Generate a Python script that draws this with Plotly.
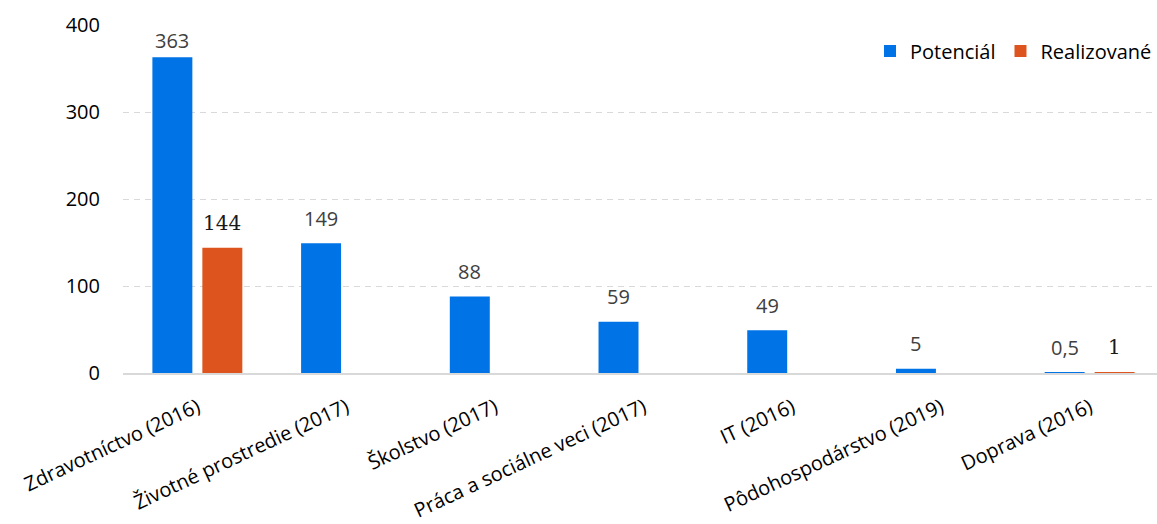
import plotly.graph_objects as go

categories = ["Zdravotníctvo (2016)", "Životné prostredie (2017)", "Školstvo (2017)",
              "Práca a sociálne veci (2017)", "IT (2016)", "Pôdohospodárstvo (2019)", "Doprava (2016)"]
potencial = [363, 149, 88, 59, 49, 5, 0.5]
realizovane = [144, None, None, None, None, None, 1]

def fmt(v):
    if float(v).is_integer():
        return str(int(v))
    return str(v).replace(".", ",")

SANS = "Open Sans, Noto Sans, sans-serif"
SERIF = "DejaVu Serif, Liberation Serif, serif"

fig = go.Figure()
fig.add_trace(go.Bar(
    name="Potenciál", x=categories, y=potencial,
    marker=dict(color="#0073E6", line=dict(width=0)),
))
fig.add_trace(go.Bar(
    name="Realizované", x=categories, y=realizovane,
    marker=dict(color="#DD541E", line=dict(width=0)),
))

# data labels above bars
for series, dx, font in [(potencial, -25, dict(family=SANS, size=20, color="#404040")),
                         (realizovane, 25, dict(family=SERIF, size=20, color="#1a1a1a"))]:
    for cat, v in zip(categories, series):
        if v is None:
            continue
        fig.add_annotation(
            x=cat, y=v, xref="x", yref="y", text=fmt(v), showarrow=False,
            xshift=dx, yshift=(17 if v > 340 else 25), yanchor="middle", xanchor="center",
            font=font,
        )

fig.update_layout(
    width=1157, height=524,
    margin=dict(l=123, r=0, t=25, b=151, autoexpand=False),
    barmode="group", bargap=0.328, bargroupgap=0.2,
    plot_bgcolor="white", paper_bgcolor="white",
    font=dict(family=SANS, size=20, color="#000000"),
    legend=dict(orientation="h", x=1.0, xanchor="right", y=0.925, yanchor="middle",
                font=dict(size=20, color="#000000"), bgcolor="rgba(0,0,0,0)",
                itemwidth=30, traceorder="normal"),
    showlegend=True,
)
fig.update_xaxes(
    type="category", range=[-0.5, 6.453], tickangle=-25, automargin=False,
    showline=True, linecolor="#d9d9d9", linewidth=2,
    showgrid=False, ticklabelstandoff=13,
    tickfont=dict(size=20, color="#000000"),
)
fig.update_yaxes(
    range=[0, 400], dtick=100, showgrid=True, gridcolor="#d9d9d9", gridwidth=1,
    griddash="6px,5px", zeroline=False, showline=False, ticklabelstandoff=22, automargin=False,
    tickfont=dict(size=20, color="#000000"),
)

fig.write_html("out.html", config={"displayModeBar": False},
               post_script="document.body.style.margin='0';document.body.style.padding='0';")
